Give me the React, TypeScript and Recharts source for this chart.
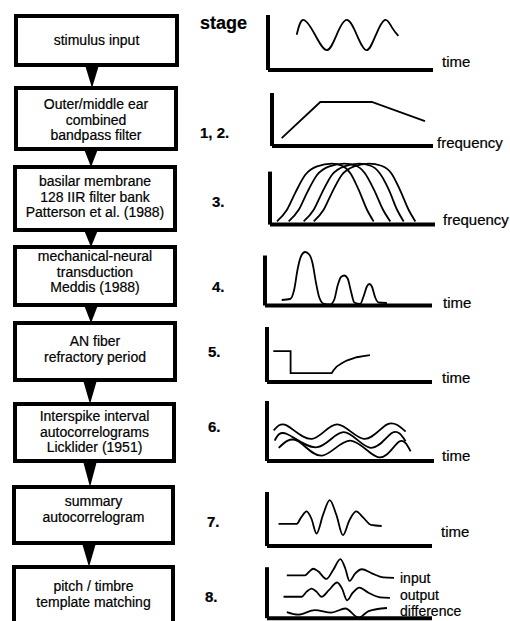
import { LineChart, Line, XAxis, YAxis, ReferenceLine } from 'recharts';

type Pair = [number, number];

// Values: x runs 0..100 along each panel's time/frequency axis,
// y is 0..100 from the axis line up to the top of the vertical axis (peaks may go above).

const BOX_TEXT = [
  ['stimulus input'],
  ['Outer/middle ear', 'combined', 'bandpass filter'],
  ['basilar membrane', '128 IIR filter bank', 'Patterson et al. (1988)'],
  ['mechanical-neural', 'transduction', 'Meddis (1988)'],
  ['AN fiber', 'refractory period'],
  ['Interspike interval', 'autocorrelograms', 'Licklider (1951)'],
  ['summary', 'autocorrelogram'],
  ['pitch / timbre', 'template matching'],
];

const STAGE_TITLE = 'stage';
const STAGE_LABELS = ['1, 2.', '3.', '4.', '5.', '6.', '7.', '8.'];
const AXIS_LABELS = ['time', 'frequency', 'frequency', 'time', 'time', 'time', 'time'];
const TEMPLATE_LABELS = ['input', 'output', 'difference'];

const STIMULUS: Pair[] = [
  [17.4, 64], [21.4, 91], [28.5, 64], [35.6, 36], [41.6, 64], [47.7, 91],
  [53.8, 64], [59.8, 36], [65.4, 64], [70.9, 91], [75, 78], [79, 62],
];

const BANDPASS: Pair[] = [[6, 15], [30, 83], [62, 83], [95, 47]];

const FILTER_1: Pair[] = [
  [4.2, 6], [10.3, 28], [15.3, 60], [21.4, 94], [28.5, 110], [37.6, 115],
  [43.6, 111], [48.7, 97], [53.7, 66], [58.8, 28], [62.8, 6],
];
const FILTER_2: Pair[] = [
  [11.3, 6], [17.4, 28], [22.4, 60], [28.6, 94], [36, 110], [45, 115],
  [52, 111], [57.5, 97], [63, 66], [68.5, 28], [72.9, 6],
];
const FILTER_3: Pair[] = [
  [20.4, 6], [26.5, 28], [31.5, 60], [37.6, 94], [45, 110], [54, 115],
  [61, 111], [66.5, 97], [72, 66], [77, 28], [81, 6],
];
const FILTER_4: Pair[] = [
  [26.5, 6], [32.5, 28], [37.5, 60], [43.6, 94], [51, 110], [60, 115],
  [67.5, 111], [73.5, 97], [78.7, 66], [84, 28], [88.1, 6],
];

const TRANSDUCTION: Pair[] = [
  [10, 11], [15, 13], [17.5, 32], [19.5, 72], [21.5, 98], [24, 107], [26.5, 102],
  [28.5, 84], [30.5, 46], [32.5, 16], [35, 4], [39, 2], [41.5, 12], [43.5, 40],
  [45.5, 57], [47.5, 60], [49.5, 54], [51.5, 28], [53.5, 6], [57, 3], [59, 18],
  [61, 38], [62.5, 43], [64, 38], [66, 16], [68, 6], [73, 5],
];

const REFRACTORY: Pair[] = [
  [3.8, 56], [14.3, 56], [14.3, 16], [39.2, 16], [40.2, 21], [42.2, 28],
  [45.3, 34], [48.3, 39], [54.4, 45], [58.4, 47], [62.4, 49],
];

const ACF_1: Pair[] = [[4, 51], [12, 59], [27, 37], [42, 61], [58, 37], [72, 61], [83, 49]];
const ACF_2: Pair[] = [[4.6, 34], [12, 45], [30, 23], [46, 48], [62, 22], [75, 47], [83, 33]];
const ACF_3: Pair[] = [[7, 22], [18, 34], [33, 9], [50, 34], [67, 6], [79, 32], [86, 16]];

const SACF: Pair[] = [
  [7, 41], [18, 41], [20.5, 52], [24, 64], [27, 50], [30, 23], [34, 58], [38, 85],
  [42, 58], [46, 20], [50, 48], [54, 64], [58.5, 52], [63, 39], [69.5, 37],
];

const INPUT: Pair[] = [
  [12, 84], [23, 84], [25.5, 91], [28, 97], [31, 92], [36, 77], [40, 94], [44.5, 116],
  [47.5, 97], [50, 73], [53.5, 88], [57.5, 96], [63.5, 88], [70.5, 80], [77, 79],
];
const OUTPUT: Pair[] = [
  [10, 42], [21, 42], [24, 52], [27, 58], [30, 52], [33, 42], [37.5, 55], [42.5, 70],
  [45.5, 58], [48.5, 35], [52, 50], [56, 60], [61.5, 50], [68.5, 41], [74.5, 40],
];
const DIFFERENCE: Pair[] = [
  [12, 12], [19, 7], [29, 16], [39, 11], [47.5, 19], [55.6, 1], [61.6, 14], [72.7, 20],
];

// ---- layout (page pixels) ----
const FONT = '"Liberation Sans", Arial, Helvetica, sans-serif';
const LINE_H = 15.5;
const PAD = 4;

const BOXES = [
  { x1: 14, x2: 179, y1: 14, y2: 67, textY: 41 },
  { x1: 14, x2: 178, y1: 86, y2: 151, textY: 105 },
  { x1: 13, x2: 177, y1: 165, y2: 232, textY: 182 },
  { x1: 13, x2: 177, y1: 245, y2: 307, textY: 257 },
  { x1: 13, x2: 177, y1: 321, y2: 382, textY: 342 },
  { x1: 13, x2: 176, y1: 402, y2: 463, textY: 417 },
  { x1: 12, x2: 175, y1: 485, y2: 545, textY: 502 },
  { x1: 12, x2: 175, y1: 565, y2: 640, textY: 587 },
];
const ARROW_X = [92, 91, 91, 91, 90, 90, 89];

const STAGE_POS = [
  { x: 200, y: 133 }, { x: 212, y: 202 }, { x: 212, y: 287 }, { x: 208, y: 352 },
  { x: 208, y: 427 }, { x: 207, y: 522 }, { x: 205, y: 597 },
];

type Curve = 'monotone' | 'linear' | 'natural';
type Series = { points: Pair[]; curve: Curve };
type PanelBox = { x0: number; xr: number; yt: number; yb: number; yMax: number };

const PANELS: { box: PanelBox; series: Series[]; label?: { x: number; y: number } }[] = [
  { box: { x0: 268, xr: 433, yt: 15, yb: 70, yMax: 100 }, series: [{ points: STIMULUS, curve: 'natural' }], label: { x: 442, y: 62 } },
  { box: { x0: 272, xr: 433, yt: 93, yb: 146, yMax: 100 }, series: [{ points: BANDPASS, curve: 'linear' }], label: { x: 437, y: 143 } },
  {
    box: { x0: 270, xr: 435, yt: 172, yb: 225, yMax: 120 },
    series: [FILTER_1, FILTER_2, FILTER_3, FILTER_4].map((points) => ({ points, curve: 'monotone' as Curve })),
    label: { x: 443, y: 220 },
  },
  { box: { x0: 265, xr: 432, yt: 255, yb: 305, yMax: 115 }, series: [{ points: TRANSDUCTION, curve: 'monotone' }], label: { x: 443, y: 303 } },
  { box: { x0: 267, xr: 432, yt: 327, yb: 382, yMax: 100 }, series: [{ points: REFRACTORY, curve: 'linear' }], label: { x: 442, y: 378 } },
  {
    box: { x0: 267, xr: 434, yt: 401, yb: 461, yMax: 100 },
    series: [ACF_1, ACF_2, ACF_3].map((points) => ({ points, curve: 'natural' as Curve })),
    label: { x: 442, y: 456 },
  },
  { box: { x0: 267, xr: 432, yt: 492, yb: 546, yMax: 100 }, series: [{ points: SACF, curve: 'monotone' }], label: { x: 441, y: 532 } },
  {
    box: { x0: 267, xr: 432, yt: 567, yb: 618, yMax: 120 },
    series: [INPUT, OUTPUT, DIFFERENCE].map((points) => ({ points, curve: 'monotone' as Curve })),
  },
];
const TEMPLATE_LABEL_POS = [{ x: 400, y: 578 }, { x: 400, y: 595 }, { x: 400, y: 611 }];

const toRows = (pts: Pair[]) => pts.map(([x, y]) => ({ x, y }));

function Panel({ box, series }: { box: PanelBox; series: Series[] }) {
  const plotW = box.xr - box.x0;
  const plotH = ((box.yb - box.yt) * box.yMax) / 100;
  return (
    <div style={{ position: 'absolute', left: box.x0 - PAD, top: box.yb - plotH - PAD }}>
      <LineChart
        width={plotW + 2 * PAD}
        height={plotH + 2 * PAD}
        margin={{ top: PAD, right: PAD, bottom: PAD, left: PAD }}
      >
        <XAxis type="number" dataKey="x" domain={[0, 100]} hide />
        <YAxis type="number" dataKey="y" domain={[0, box.yMax]} hide />
        <ReferenceLine
          segment={[{ x: 0, y: 0 }, { x: 0, y: 100 }]}
          stroke="#000"
          strokeWidth={4}
          ifOverflow="visible"
        />
        <ReferenceLine
          segment={[{ x: 0, y: 0 }, { x: 100, y: 0 }]}
          stroke="#000"
          strokeWidth={4}
          ifOverflow="visible"
        />
        {series.map((s, i) => (
          <Line
            key={i}
            data={toRows(s.points)}
            dataKey="y"
            type={s.curve}
            stroke="#000"
            strokeWidth={1.8}
            dot={false}
            activeDot={false}
            isAnimationActive={false}
          />
        ))}
      </LineChart>
    </div>
  );
}

function Text({ x, y, children, size = 15, bold = false }: { x: number; y: number; children: string; size?: number; bold?: boolean }) {
  return (
    <div
      style={{
        position: 'absolute',
        left: x,
        top: y - 10,
        height: 20,
        lineHeight: '20px',
        fontSize: size,
        fontWeight: bold ? 700 : 400,
        whiteSpace: 'nowrap',
      }}
    >
      {children}
    </div>
  );
}

export default function App() {
  return (
    <div
      style={{
        position: 'absolute',
        left: 0,
        top: 0,
        width: 510,
        height: 621,
        overflow: 'hidden',
        background: '#fff',
        fontFamily: FONT,
        color: '#000',
        WebkitTextStroke: '0.2px #000',
      }}
    >
      {BOXES.map((b, i) => (
        <div key={`box${i}`}>
          <div
            style={{
              position: 'absolute',
              left: b.x1,
              top: b.y1,
              width: b.x2 - b.x1,
              height: b.y2 - b.y1,
              border: '4px solid #000',
              boxSizing: 'border-box',
            }}
          />
          <div
            style={{
              position: 'absolute',
              left: b.x1,
              width: b.x2 - b.x1,
              top: b.textY - LINE_H / 2,
              textAlign: 'center',
              fontSize: 14,
              lineHeight: `${LINE_H}px`,
            }}
          >
            {BOX_TEXT[i].map((t) => (
              <div key={t}>{t}</div>
            ))}
          </div>
        </div>
      ))}

      <svg width={510} height={621} style={{ position: 'absolute', left: 0, top: 0 }}>
        {ARROW_X.map((cx, i) => {
          const top = BOXES[i].y2 - 2;
          const tip = BOXES[i + 1].y1 + 2;
          return <polygon key={i} points={`${cx - 7},${top} ${cx + 7},${top} ${cx},${tip}`} fill="#000" />;
        })}
      </svg>

      <Text x={200} y={23} size={18} bold>
        {STAGE_TITLE}
      </Text>
      {STAGE_LABELS.map((s, i) => (
        <Text key={s} x={STAGE_POS[i].x} y={STAGE_POS[i].y} size={15} bold>
          {s}
        </Text>
      ))}

      {PANELS.map((p, i) => (
        <div key={`panel${i}`}>
          <Panel box={p.box} series={p.series} />
          {p.label && (
            <Text x={p.label.x} y={p.label.y} size={15}>
              {AXIS_LABELS[i]}
            </Text>
          )}
        </div>
      ))}
      {TEMPLATE_LABELS.map((t, i) => (
        <Text key={t} x={TEMPLATE_LABEL_POS[i].x} y={TEMPLATE_LABEL_POS[i].y} size={14}>
          {t}
        </Text>
      ))}
    </div>
  );
}
